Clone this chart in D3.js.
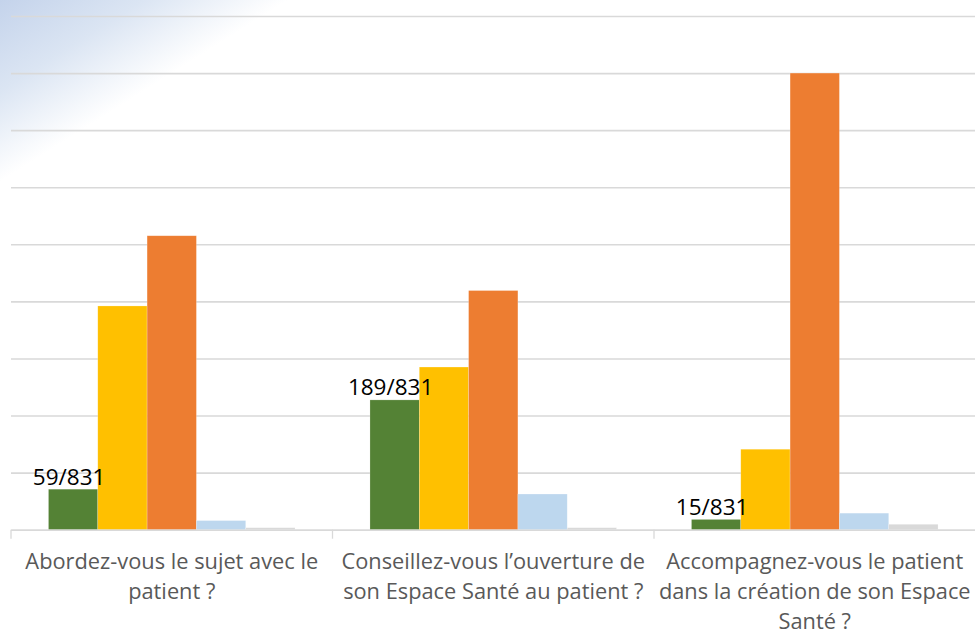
<!DOCTYPE html>
<html>
<head>
<meta charset="utf-8">
<script src="https://cdn.jsdelivr.net/npm/d3@7"></script>
<style>
  html, body { margin: 0; padding: 0; background: #fff; }
  svg { display: block; }
</style>
</head>
<body>
<div id="chart"></div>
<script>
// ---- Data (percent of 831 respondents) ----
const categories = [
  "Abordez-vous le sujet avec le\npatient ?",
  "Conseillez-vous l’ouverture de\nson Espace Santé au patient ?",
  "Accompagnez-vous le patient\ndans la création de son Espace\nSanté ?"
];
const seriesNames = ["Série 1", "Série 2", "Série 3", "Série 4", "Série 5"];
const series1 = [7.1, 22.74, 1.8];
const series2 = [39.2, 28.5, 14.1];
const series3 = [51.5, 41.9, 80.0];
const series4 = [1.6, 6.25, 2.9];
const series5 = [0.35, 0.35, 0.95];
const greenLabels = ["59/831", "189/831", "15/831"];
const yTicks = [0, 10, 20, 30, 40, 50, 60, 70, 80, 90];
const colors = ["#548235", "#FFC000", "#ED7D31", "#BDD7EE", "#D9D9D9"];

const allSeries = [series1, series2, series3, series4, series5];
const rows = categories.map((c, i) => ({
  cat: c,
  values: seriesNames.map((s, j) => ({ key: s, value: allSeries[j][i] }))
}));

// ---- Layout ----
const W = 975, H = 635;
const mLeft = 11, mRight = 975.5, mBottom = 529.7, mTop = 16;

const svg = d3.select("#chart").append("svg")
  .attr("width", W).attr("height", H);

// background gradient in top-left corner
const defs = svg.append("defs");
const grad = defs.append("linearGradient")
  .attr("id", "bg").attr("gradientUnits", "userSpaceOnUse")
  .attr("x1", 0).attr("y1", 0).attr("x2", 82).attr("y2", 130);
grad.append("stop").attr("offset", 0).attr("stop-color", "#c4d3eb");
grad.append("stop").attr("offset", 0.5).attr("stop-color", "#dbe5f3");
grad.append("stop").attr("offset", 1).attr("stop-color", "#ffffff");
svg.append("rect").attr("width", W).attr("height", H).attr("fill", "url(#bg)");

const x0 = d3.scaleBand().domain(categories).range([mLeft, mRight]).paddingInner(0).paddingOuter(0);
const x1 = d3.scaleBand().domain(seriesNames).range([0, x0.bandwidth()]).paddingInner(0).paddingOuter(0.76);
const y = d3.scaleLinear().domain([0, 90]).range([mBottom, mTop]);
const color = d3.scaleOrdinal().domain(seriesNames).range(colors);

// gridlines
const yAxis = d3.axisLeft(y).tickValues(yTicks).tickSize(-(mRight - mLeft)).tickFormat("");
const gy = svg.append("g").attr("transform", `translate(${mLeft},0)`).call(yAxis);
gy.select(".domain").remove();
gy.selectAll(".tick line").attr("stroke", "#d9d9d9").attr("stroke-width", 1.6);

// bars
const groups = svg.append("g").selectAll("g").data(rows).join("g")
  .attr("transform", d => `translate(${x0(d.cat)},0)`);
groups.selectAll("rect").data(d => d.values).join("rect")
  .attr("x", d => x1(d.key))
  .attr("y", d => y(d.value))
  .attr("width", x1.bandwidth())
  .attr("height", d => y(0) - y(d.value))
  .attr("fill", d => color(d.key))
  .attr("stroke", "#ffffff").attr("stroke-opacity", 0.35).attr("stroke-width", 0.6);

// x axis (baseline + category ticks)
const xAxis = d3.axisBottom(x0).tickSize(0).tickFormat("");
const gx = svg.append("g").attr("transform", `translate(0,${mBottom})`).call(xAxis);
gx.select(".domain").attr("stroke", "#d9d9d9").attr("stroke-width", 1.6);
gx.selectAll(".tick").remove();
const bounds = categories.map(c => x0(c));
gx.selectAll("line.sep").data(bounds).join("line")
  .attr("class", "sep")
  .attr("x1", d => d).attr("x2", d => d)
  .attr("y1", 0).attr("y2", 9)
  .attr("stroke", "#d9d9d9").attr("stroke-width", 1.3);

// category labels
const catText = svg.append("g").selectAll("text").data(categories).join("text")
  .attr("x", d => x0(d) + x0.bandwidth() / 2)
  .attr("y", 569)
  .attr("text-anchor", "middle")
  .attr("font-family", "'Open Sans', sans-serif")
  .attr("font-size", 21.8)
  .attr("fill", "#595959");
catText.each(function(d) {
  const t = d3.select(this);
  d.split("\n").forEach((line, i) => {
    t.append("tspan").attr("x", t.attr("x")).attr("dy", i === 0 ? 0 : 30).text(line);
  });
});

// data labels on green bars
svg.append("g").selectAll("text").data(rows).join("text")
  .attr("x", (d) => x0(d.cat) + x1(seriesNames[0]) + x1.bandwidth() / 2 - 4)
  .attr("y", d => y(d.values[0].value) - 4.5)
  .attr("text-anchor", "middle")
  .attr("font-family", "'Open Sans', sans-serif")
  .attr("font-size", 22.5)
  .attr("fill", "#000")
  .text((d, i) => greenLabels[i]);
</script>
</body>
</html>
